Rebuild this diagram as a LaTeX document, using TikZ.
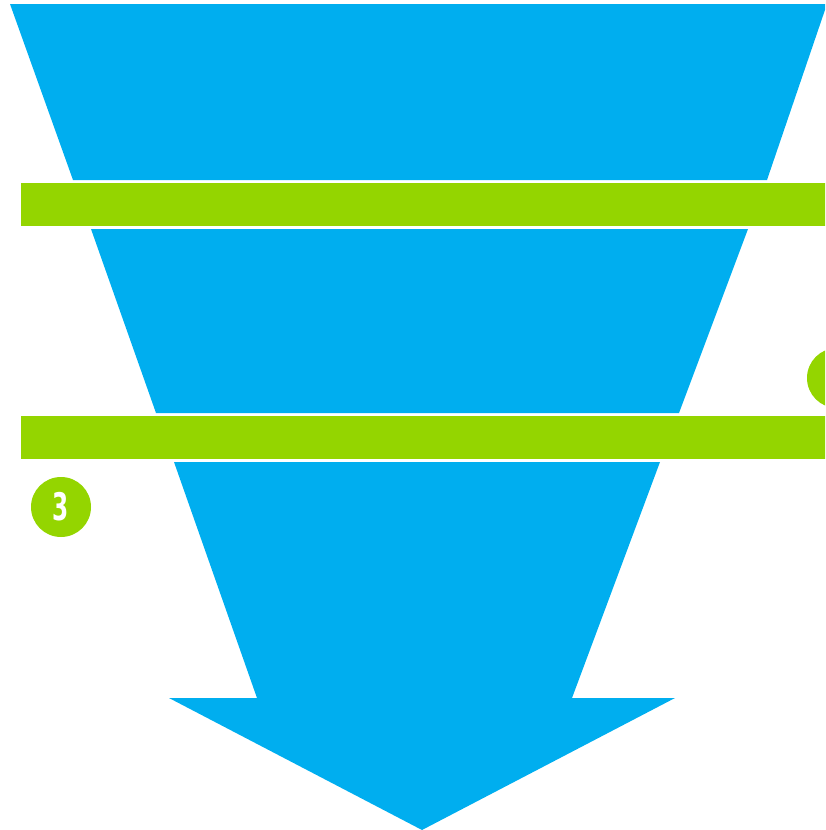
\documentclass[tikz,border=0pt]{standalone}
\usepackage{tikz}
\usepackage{xcolor}
\usepackage{fontspec}
\newfontfamily\numfont{DejaVu Sans Condensed}
\usetikzlibrary{positioning}
\definecolor{funnelBlue}{RGB}{0,174,239}
\definecolor{barGreen}{RGB}{148,213,0}
\newcommand{\stepnum}[1]{\scalebox{0.68}[1]{#1}}

\begin{document}
\begin{tikzpicture}[x=1pt, y=-1pt,
    stage/.style={fill=funnelBlue, draw=none},
    bar/.style={fill=barGreen, draw=none},
    badge/.style={circle, fill=barGreen, minimum size=60pt, inner sep=0pt,
                  text=white, font=\numfont\bfseries\fontsize{38}{38}\selectfont}]
    \useasboundingbox (0,0) rectangle (825,830);
    \clip (0,0) rectangle (825,830);
    % funnel stages
    \fill[stage] (10,4) -- (827,4) -- (767,180) -- (73,180) -- cycle;
    \fill[stage] (91,229) -- (748,229) -- (679,413) -- (156,413) -- cycle;
    \fill[stage] (174,462) -- (660,462) -- (572,698) -- (675,698)
                 -- (422,830) -- (169,698) -- (257,698) -- cycle;
    % separators
    \fill[bar] (21,183) rectangle (830,226);
    \fill[bar] (21,416) rectangle (830,459);
    % step badges
    \node[badge] (step2) at (837,378) {};
    \node[badge] (step3) at (61,507) {\stepnum{3}};
\end{tikzpicture}
\end{document}
